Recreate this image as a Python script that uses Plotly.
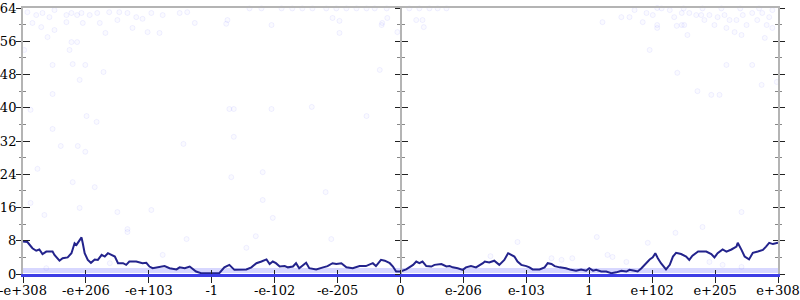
import plotly.graph_objects as go

# ---- data ----
x_tick_vals = [-6, -5, -4, -3, -2, -1, 0, 1, 2, 3, 4, 5, 6]
x_tick_text = ["-e+308", "-e+206", "-e+103", "-1", "-e-102", "-e-205", "0",
               "e-206", "e-103", "1", "e+102", "e+205", "e+308"]
y_tick_vals = [0, 8, 16, 24, 32, 40, 48, 56, 64]

line_x = [-6.00, -5.93, -5.85, -5.79, -5.74, -5.69, -5.63, -5.53, -5.50, -5.42, -5.37, -5.29,
          -5.23, -5.18, -5.15, -5.12, -5.07, -5.05, -5.02, -4.97, -4.92, -4.86, -4.81, -4.75,
          -4.70, -4.65, -4.60, -4.54, -4.49, -4.41, -4.36, -4.31, -4.20, -4.10, -4.04, -3.99,
          -3.94, -3.83, -3.75, -3.67, -3.56, -3.51, -3.43, -3.35, -3.30, -3.25, -3.17, -2.96,
          -2.88, -2.80, -2.72, -2.64, -2.56, -2.45, -2.37, -2.29, -2.21, -2.13, -2.08, -2.03,
          -1.98, -1.92, -1.84, -1.79, -1.71, -1.66, -1.61, -1.50, -1.45, -1.34, -1.23, -1.16,
          -1.08, -1.02, -0.94, -0.86, -0.76, -0.65, -0.55, -0.44, -0.39, -0.31, -0.25, -0.17,
          -0.12, -0.07, 0.00, 0.03, 0.09, 0.20, 0.25, 0.30, 0.35, 0.41, 0.49, 0.54, 0.65, 0.73,
          0.78, 0.83, 0.91, 0.99, 1.04, 1.12, 1.20, 1.31, 1.34, 1.41, 1.49, 1.57, 1.65, 1.71,
          1.76, 1.81, 1.86, 1.92, 2.00, 2.05, 2.10, 2.21, 2.29, 2.34, 2.40, 2.45, 2.53, 2.63,
          2.71, 2.79, 2.87, 2.95, 3.00, 3.06, 3.11, 3.19, 3.27, 3.35, 3.43, 3.51, 3.59, 3.64,
          3.72, 3.77, 3.83, 3.88, 3.96, 4.01, 4.05, 4.09, 4.14, 4.22, 4.28, 4.33, 4.38, 4.46,
          4.54, 4.59, 4.64, 4.73, 4.78, 4.86, 4.94, 4.99, 5.04, 5.12, 5.18, 5.26, 5.34, 5.36,
          5.42, 5.47, 5.54, 5.60, 5.68, 5.76, 5.81, 5.86, 5.92, 6.00]
line_y = [7.8, 7.7, 6.2, 5.6, 5.9, 4.8, 5.4, 5.4, 4.6, 3.2, 3.8, 4.0,
          5.0, 7.4, 7.0, 7.8, 8.8, 7.4, 5.0, 3.4, 2.7, 3.5, 3.4, 4.6,
          4.2, 5.0, 4.6, 4.2, 2.6, 2.6, 2.2, 3.0, 3.0, 2.6, 2.7, 1.8,
          1.4, 1.6, 1.9, 1.4, 1.1, 1.6, 1.4, 1.8, 1.2, 0.6, 0.2, 0.2,
          0.2, 1.6, 2.2, 1.0, 1.0, 1.1, 1.6, 2.6, 3.0, 3.5, 2.4, 3.0,
          2.6, 1.8, 1.9, 1.6, 1.8, 2.6, 1.4, 2.7, 1.4, 1.1, 1.6, 1.9,
          2.6, 2.4, 2.6, 1.6, 1.4, 1.9, 1.9, 2.6, 1.9, 3.4, 3.2, 2.6,
          1.8, 0.6, 0.6, 0.8, 1.1, 2.2, 3.0, 2.6, 3.0, 1.9, 1.8, 2.2, 2.4, 1.8,
          1.9, 1.6, 1.4, 1.0, 1.6, 1.9, 1.6, 2.6, 3.0, 2.8, 3.2, 2.2, 3.4, 5.0,
          4.6, 4.2, 3.0, 2.2, 1.9, 1.6, 1.1, 1.1, 1.6, 2.6, 2.4, 1.9, 1.6, 1.4,
          1.0, 0.8, 1.1, 0.8, 1.4, 0.8, 1.0, 0.6, 0.6, 0.2, 0.4, 0.8, 0.6, 1.0,
          0.8, 0.6, 1.4, 2.2, 3.5, 4.0, 5.0, 3.8, 2.6, 1.1, 2.2, 4.2, 5.1, 4.8,
          4.2, 3.4, 4.4, 5.4, 5.4, 5.4, 4.8, 4.0, 5.0, 5.9, 5.4, 5.9, 6.6, 7.5,
          5.8, 4.2, 3.5, 5.1, 5.4, 5.8, 6.6, 7.5, 7.2, 7.5]

pts_x = [-5.93, -5.79, -5.69, -5.58, -5.50, -5.31, -5.23, -5.14, -5.07, -4.94, -4.82, -4.63,
         -4.47, -4.34, -4.20, -4.10, -3.96, -3.83, -3.78, -3.51, -3.39, -3.27, -5.85, -5.71,
         -5.61, -5.50, -5.23, -5.14, -5.26, -5.53, -5.21, -5.01, -4.72, -5.10, -5.53, -5.98,
         -4.69, -4.78, -5.05, -5.31, -4.50, -4.26, -4.02,
         -5.88, -4.99, -4.83, -5.53, -5.40, -5.13, -5.01, -3.45, -2.72, -2.65, -2.05, -1.41,
         -0.54, -2.65, -5.77, -5.21, -4.86, -2.69, -2.19, -1.19, -5.88, -5.66, -5.10, -4.50,
         -3.96, -2.19, -2.03, -4.34,
         -2.75, -2.77, -2.05, -1.08, -0.97, -0.30, -0.29, -0.21, -0.05, -0.97, -0.33,
         -2.40, -2.21, -1.89, -1.72, -1.56, -1.40, -1.18, -1.02, -0.86, -0.70, -0.54, -0.41,
         -0.22, 0.14, 0.30, 0.46, 0.59, 0.73, 0.25, 0.35, 0.37,
         3.21, 3.51, 3.64, 3.72, 3.85, 3.91, 4.01, 4.08, 4.08, 4.08, 4.28, 4.35, 4.39, 4.47,
         4.51, 4.56, 4.47, 4.59, 4.70, 4.78, 4.83, 4.91, 4.99, 5.04, 5.15, 5.18, 5.23, 5.34,
         5.31, 5.42, 5.44, 5.50, 5.59, 5.67, 5.75, 5.82, 5.86, 5.91, 5.91, 5.79, 3.96, 5.18,
         5.59, 4.40, 5.98, 4.72, 4.94, 5.07, 5.74, 4.15, 4.50, 4.80, 5.10, 5.40, 5.70,
         3.12, 3.29, 3.37, 3.59, 3.93, 4.37, 4.80, 5.42, 4.91, 5.12, 5.42,
         1.86, 1.43, 2.40, 2.56, 2.73, -2.30, -2.45, -1.10,
         -4.34, -3.78, -3.40, -5.63, -4.62]
pts_y = [63.0, 62.3, 62.8, 61.8, 63.5, 62.3, 62.8, 62.3, 62.8, 62.3, 62.8, 63.0,
         63.0, 62.8, 61.8, 61.4, 62.8, 58.0, 62.3, 62.8, 63.0, 60.4, 60.4, 59.4,
         57.0, 58.7, 55.8, 55.8, 53.9, 50.3, 50.5, 50.3, 48.6, 46.7, 43.3, 53.9,
         58.0, 60.4, 60.4, 60.6, 61.1, 59.2, 58.2,
         39.5, 38.0, 36.6, 34.9, 30.8, 30.8, 29.4, 31.3, 39.7, 39.7, 39.7, 40.2,
         38.0, 33.0, 25.3, 22.1, 20.9, 23.3, 24.5, 19.7, 17.1, 14.2, 15.9, 14.9,
         15.4, 17.8, 13.5, 10.8,
         61.1, 60.2, 59.9, 61.6, 60.9, 59.9, 60.4, 61.6, 58.2, 58.0, 49.1,
         63.9, 63.9, 63.9, 63.9, 63.9, 63.9, 63.9, 63.9, 63.9, 63.9, 63.9, 63.9,
         63.9, 63.9, 63.9, 63.9, 63.9, 63.9, 61.1, 61.1, 59.4,
         60.6, 61.8, 61.8, 63.5, 60.6, 62.8, 62.3, 64.0, 59.9, 59.2, 63.5, 61.8, 59.7, 59.9,
         59.9, 57.5, 62.8, 62.8, 62.3, 62.3, 61.1, 62.3, 59.9, 61.8, 62.3, 59.2, 61.1, 61.1,
         58.2, 57.5, 62.3, 59.9, 62.8, 61.1, 62.8, 59.9, 61.8, 63.5, 59.2, 56.8, 53.9, 50.3,
         50.3, 48.4, 46.2, 44.0, 43.1, 43.1, 45.5, 63.9, 63.9, 63.9, 63.9, 63.9, 63.9,
         8.9, 4.6, 4.1, 2.9, 7.5, 9.9, 11.3, 14.9, 2.9, 2.2, 1.7,
         7.7, 4.3, 3.8, 3.4, 3.8, 9.1, 6.3, 8.4,
         10.1, 4.6, 8.4, 1.4, 2.6]

band_x = [-6, 6]
band_y = [0.85, 0.85]

# ---- style ----
GREY = "#b4b4b4"
TICK = "#222222"
MINOR = "#888888"
FONT = dict(family="DejaVu Serif", size=13, color="#000000")

fig = go.Figure()
fig.add_trace(go.Scatter(
    x=pts_x, y=pts_y, mode="markers", cliponaxis=False,
    marker=dict(size=5, color="rgba(140,140,255,0.04)",
                line=dict(color="rgba(120,120,255,0.10)", width=1)),
    hoverinfo="skip", showlegend=False))
fig.add_trace(go.Scatter(
    x=band_x, y=band_y, mode="lines",
    line=dict(color="rgba(140,140,255,0.35)", width=5),
    hoverinfo="skip", showlegend=False))
fig.add_trace(go.Scatter(
    x=line_x, y=line_y, mode="lines",
    line=dict(color="#23238c", width=2),
    hoverinfo="skip", showlegend=False))

# empty traces so that the extra (tick-only) axes are drawn
for xa, ya in [("x2", "y"), ("x3", "y"), ("x", "y2"), ("x", "y3"),
               ("x", "y4"), ("x", "y5"), ("x", "y6")]:
    fig.add_trace(go.Scatter(x=[None], y=[None], xaxis=xa, yaxis=ya, mode="markers",
                             hoverinfo="skip", showlegend=False))

XR = [-6, 6]
YR = [0, 64]

def yax(**kw):
    base = dict(range=YR, tickmode="array", tickvals=y_tick_vals, showgrid=False,
                zeroline=False, fixedrange=True, tickcolor=TICK, tickwidth=1)
    base.update(kw)
    return base

fig.update_layout(
    width=800, height=300,
    margin=dict(l=23, r=22, t=8, b=26, autoexpand=False),
    paper_bgcolor="white", plot_bgcolor="white",
    font=FONT,
    xaxis=dict(range=XR, tickmode="array", tickvals=x_tick_vals, ticktext=x_tick_text,
               ticks="outside", ticklen=6, tickcolor=TICK, tickwidth=1,
               ticklabelstandoff=-4, ticklabeloverflow="allow",
               showline=True, linecolor="#3d3de6", linewidth=3,
               showgrid=False, zeroline=False, fixedrange=True, tickfont=FONT),
    xaxis2=dict(range=XR, overlaying="x", anchor="y", side="bottom",
                tickmode="array", tickvals=x_tick_vals, ticks="inside", ticklen=4,
                tickcolor=TICK, showticklabels=False, showline=False,
                showgrid=False, zeroline=False, fixedrange=True),
    xaxis3=dict(range=XR, overlaying="x", anchor="y", side="top", ticks="",
                showticklabels=False, showline=True, linecolor=GREY, linewidth=2,
                showgrid=False, zeroline=False, fixedrange=True),
    yaxis=yax(side="left", ticks="outside", ticklen=5, showline=True, linecolor=GREY,
              linewidth=2, tickfont=FONT, ticklabelstandoff=-3, ticklabeloverflow="allow",
              minor=dict(dtick=4, tick0=0, ticks="outside", ticklen=2, tickcolor=MINOR)),
    yaxis2=yax(overlaying="y", side="left", anchor="x", ticks="inside", ticklen=7,
               showticklabels=False, showline=False,
               minor=dict(dtick=4, tick0=0, ticks="inside", ticklen=3, tickcolor=MINOR)),
    yaxis3=yax(overlaying="y", side="right", anchor="x", ticks="outside", ticklen=5,
               showticklabels=False, showline=True, linecolor=GREY, linewidth=2,
               minor=dict(dtick=4, tick0=0, ticks="outside", ticklen=2, tickcolor=MINOR)),
    yaxis4=yax(overlaying="y", side="right", anchor="x", ticks="inside", ticklen=5,
               showticklabels=False, showline=False,
               minor=dict(dtick=4, tick0=0, ticks="inside", ticklen=3, tickcolor=MINOR)),
    yaxis5=yax(overlaying="y", side="left", anchor="free", position=0.5, ticks="outside",
               ticklen=5, showticklabels=False, showline=True, linecolor=GREY, linewidth=2,
               minor=dict(dtick=4, tick0=0, ticks="outside", ticklen=3, tickcolor=MINOR)),
    yaxis6=yax(overlaying="y", side="left", anchor="free", position=0.5, ticks="inside",
               ticklen=6, showticklabels=False, showline=False,
               minor=dict(dtick=4, tick0=0, ticks="inside", ticklen=3, tickcolor=MINOR)),
)

fig.write_html("out.html")
